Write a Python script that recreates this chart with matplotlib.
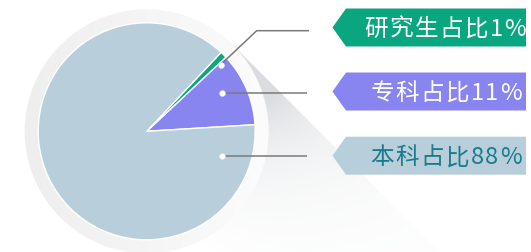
import numpy as np
import matplotlib.pyplot as plt
from matplotlib.patches import Circle, Polygon
from matplotlib.font_manager import findfont, FontProperties
from matplotlib.ft2font import FT2Font

plt.rcParams['font.family'] = ['Noto Sans CJK SC', 'DejaVu Sans']

# data
labels = ['专科占比11%', '研究生占比1%', '本科占比88%']
shares = [11, 1, 88]
colors = ['#8884f0', '#0aa680', '#b8cfdb']
text_colors = ['white', 'white', '#187b8b']

W, H = 531, 253
fig = plt.figure(figsize=(W / 100, H / 100), dpi=100)
ax = fig.add_axes([0, 0, 1, 1])

# image coords (y down) -> data coords (y up)
def P(x, y):
    return (x, H - y)

cx, cy = P(146.7, 132.3)
R = 108.5
R_ring = 122

yy, xx = np.mgrid[0:H, 0:W] + 0.5

# long shadow going down-right
t = ((xx - cx) - (yy - cy)) / np.sqrt(2)
u = ((xx - cx) + (yy - cy)) / np.sqrt(2)
alpha = np.clip(0.32 * np.exp(-(t - 68) / 70), 0, 0.34) * np.clip((u + 40) / 150, 0, 1)
shadow = np.zeros((H, W, 4))
shadow[..., 0] = 0.58
shadow[..., 1] = 0.60
shadow[..., 2] = 0.64
shadow[..., 3] = alpha
d = R_ring / np.sqrt(2)
T1 = (cx + d, cy + d)
T2 = (cx - d, cy - d)
L = 600
shadow_poly = Polygon([T1, (T1[0] + L, T1[1] - L), (T2[0] + L, T2[1] - L), T2],
                      closed=True, facecolor='none', edgecolor='none')
ax.add_patch(shadow_poly)
im = ax.imshow(shadow, extent=(0, W, 0, H), origin='lower', zorder=1, interpolation='bilinear')
im.set_clip_path(shadow_poly)

# outer ring with light gradient
s = np.clip((xx - (cx - R_ring)) / (2 * R_ring), 0, 1)
v = (0xee + (0xfc - 0xee) * s) / 255
ring_img = np.dstack([v, v, v])
ring = Circle((cx, cy), R_ring, facecolor='none', edgecolor='none')
ax.add_patch(ring)
im2 = ax.imshow(ring_img, extent=(0, W, 0, H), origin='lower', zorder=2, interpolation='bilinear')
im2.set_clip_path(ring)

# pie
wedges, _ = ax.pie(shares, colors=colors, startangle=3.5, counterclock=True,
                   center=(cx, cy), radius=R,
                   wedgeprops=dict(edgecolor='white', linewidth=1.0))
for w in wedges:
    w.set_zorder(3)

# leader lines and dots
line_c = '#7a7a7a'
dots = [P(221.7, 93.7), P(220.7, 65.7), P(221.7, 156.7)]
paths = [
    [P(221.7, 93.7), P(307, 93.7)],
    [P(220.7, 65.7), P(256.7, 31.7), P(309, 31.7)],
    [P(221.7, 156.7), P(307, 156.7)],
]
for pts in paths:
    xs, ys = zip(*pts)
    ax.plot(xs, ys, color=line_c, lw=1.1, zorder=4, solid_capstyle='butt')
for dx, dy in dots:
    ax.plot(dx, dy, 'o', ms=4.2, mfc='white', mec='#e6e6e6', mew=0.4, zorder=5)

# arrow label boxes
box_mid = [92.5, 28.5, 156.7]
text_x = [446, 445, 446]
FS = 17
TRACK = 1.5
font = FT2Font(findfont(FontProperties(family='Noto Sans CJK SC')))
font.set_size(FS, 100)

def spaced_text(xc, y, s, color):
    adv = []
    for ch in s:
        g = font.load_char(ord(ch))
        adv.append(g.linearHoriAdvance / 65536)
    total = sum(adv) + TRACK * (len(s) - 1)
    x = xc - total / 2
    for ch, a in zip(s, adv):
        ax.text(x + a / 2, y, ch, color=color, fontsize=FS, ha='center', va='center', zorder=7)
        x += a + TRACK

for lab, col, tcol, ym, tx in zip(labels, colors, text_colors, box_mid, text_x):
    top, bot = ym - 19, ym + 19
    poly = Polygon([P(332.5, ym), P(346, top), P(526, top), P(526, bot), P(346, bot)],
                   closed=True, facecolor=col, edgecolor='none', zorder=6)
    ax.add_patch(poly)
    spaced_text(tx, H - ym - 1, lab, tcol)

ax.set_xlim(0, W)
ax.set_ylim(0, H)
ax.set_aspect('auto')
ax.axis('off')

fig.savefig('out.png', dpi=100)
